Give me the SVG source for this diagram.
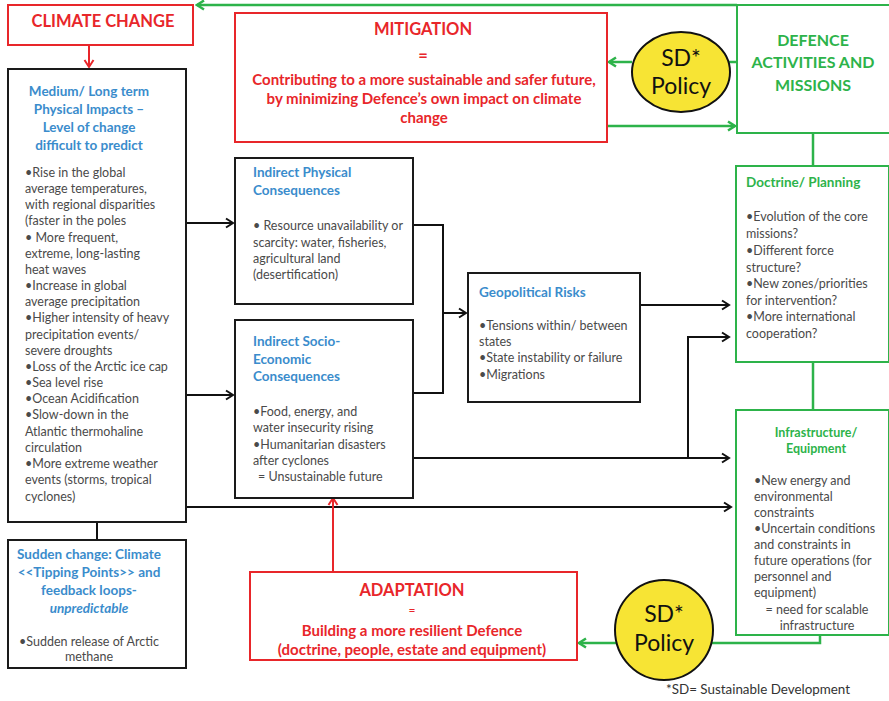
<svg xmlns="http://www.w3.org/2000/svg" width="889" height="701" viewBox="0 0 889 701">
<defs>
<style>
text{font-family:Lato,"Liberation Sans",sans-serif}
.bk{fill:#fff;stroke:#1a1a1a;stroke-width:2}
.rd{fill:#fff;stroke:#e8262a;stroke-width:2}
.gr{fill:#fff;stroke:#2db34a;stroke-width:2}
.sd{fill:#f7e434;stroke:#111;stroke-width:2}
.bt{fill:#3a8ccc;font-size:13.5px;font-weight:bold}
.bd{fill:#4a4a4a;font-size:12.5px}
.rt{fill:#e8262a;font-size:16.5px;font-weight:bold}
.rb{fill:#e8262a;font-size:15px;font-weight:bold}
.gt{fill:#2db34a;font-weight:bold}
.sdt{fill:#111;font-size:23px}
.c{text-anchor:middle}
.lk{fill:none;stroke:#111;stroke-width:2}
.lr{fill:none;stroke:#e8262a;stroke-width:2}
.lg{fill:none;stroke:#2db34a;stroke-width:2.5}
</style>
<marker id="ab" markerWidth="12" markerHeight="12" refX="10" refY="6" orient="auto" markerUnits="userSpaceOnUse"><path d="M3,1.5 L10,6 L3,10.5" fill="none" stroke="#111" stroke-width="2"/></marker>
<marker id="ar" markerWidth="12" markerHeight="12" refX="10" refY="6" orient="auto" markerUnits="userSpaceOnUse"><path d="M3,1.5 L10,6 L3,10.5" fill="none" stroke="#e8262a" stroke-width="2"/></marker>
<marker id="ag" markerWidth="12" markerHeight="12" refX="10" refY="6" orient="auto" markerUnits="userSpaceOnUse"><path d="M3,1.5 L10,6 L3,10.5" fill="none" stroke="#2db34a" stroke-width="2.5"/></marker>
</defs>
<rect width="889" height="701" fill="#fff"/>

<g id="connectors">
<path class="lr" d="M89,45 V67" marker-end="url(#ar)"/>
<path class="lg" d="M737,5 H197" marker-end="url(#ag)"/>
<path class="lg" d="M632,62 H609" marker-end="url(#ag)"/>
<path class="lg" d="M729,62 H737"/>
<path class="lg" d="M608,126 H735" marker-end="url(#ag)"/>
<path class="lg" d="M813,133 V166"/>
<path class="lg" d="M813,362 V410"/>
<path class="lg" d="M820,635 V643 H711"/>
<path class="lg" d="M616,643 H579" marker-end="url(#ag)"/>
<path class="lk" d="M187,223 H233" marker-end="url(#ab)"/>
<path class="lk" d="M187,395 H233" marker-end="url(#ab)"/>
<path class="lk" d="M187,507 H731" marker-end="url(#ab)"/>
<path class="lk" d="M413,225 H443 V393 H413"/>
<path class="lk" d="M443,313 H466" marker-end="url(#ab)"/>
<path class="lk" d="M640,305 H729" marker-end="url(#ab)"/>
<path class="lk" d="M413,458 H729" marker-end="url(#ab)"/>
<path class="lk" d="M688,458 V337 H729" marker-end="url(#ab)"/>
<path class="lk" d="M97,522 V540"/>
<path class="lr" d="M333,572 V498" marker-end="url(#ar)"/>
</g>

<g id="climate-change">
<rect class="rd" x="8" y="5" width="185" height="40"/>
<text class="rt c" x="103" y="27">CLIMATE CHANGE</text>
</g>

<g id="physical-impacts">
<rect class="bk" x="8" y="69" width="178" height="453"/>
<text class="bt c" x="89" y="96">Medium/ Long term</text>
<text class="bt c" x="89" y="114">Physical Impacts –</text>
<text class="bt c" x="89" y="132">Level of change</text>
<text class="bt c" x="89" y="150">difficult to predict</text>
<text class="bd" x="25" y="177">•Rise in the global</text>
<text class="bd" x="25" y="193">average temperatures,</text>
<text class="bd" x="25" y="209">with regional disparities</text>
<text class="bd" x="25" y="225">(faster in the poles</text>
<text class="bd" x="25" y="242">• More frequent,</text>
<text class="bd" x="25" y="258">extreme, long-lasting</text>
<text class="bd" x="25" y="274">heat waves</text>
<text class="bd" x="25" y="290">•Increase  in global</text>
<text class="bd" x="25" y="306">average precipitation</text>
<text class="bd" x="25" y="322">•Higher intensity of heavy</text>
<text class="bd" x="25" y="339">precipitation events/</text>
<text class="bd" x="25" y="355">severe droughts</text>
<text class="bd" x="25" y="371">•Loss of the Arctic ice cap</text>
<text class="bd" x="25" y="387">•Sea level rise</text>
<text class="bd" x="25" y="403">•Ocean Acidification</text>
<text class="bd" x="25" y="419">•Slow-down in the</text>
<text class="bd" x="25" y="436">Atlantic thermohaline</text>
<text class="bd" x="25" y="452">circulation</text>
<text class="bd" x="25" y="468">•More extreme weather</text>
<text class="bd" x="25" y="484">events (storms, tropical</text>
<text class="bd" x="25" y="501">cyclones)</text>
</g>

<g id="sudden-change">
<rect class="bk" x="8" y="540" width="178" height="128"/>
<text class="bt c" x="89" y="559">Sudden change: Climate</text>
<text class="bt c" x="89" y="577">&lt;&lt;Tipping Points&gt;&gt; and</text>
<text class="bt c" x="89" y="595">feedback loops-</text>
<text class="bt c" x="89" y="613" font-style="italic">unpredictable</text>
<text class="bd c" x="89" y="646">•Sudden release of Arctic</text>
<text class="bd c" x="89" y="661">methane</text>
</g>

<g id="mitigation">
<rect class="rd" x="235" y="13" width="372" height="129"/>
<text class="rt c" x="423" y="35">MITIGATION</text>
<text class="rt c" x="423" y="61">=</text>
<text class="rb c" x="424" y="85">Contributing to a more sustainable and safer future,</text>
<text class="rb c" x="424" y="104">by  minimizing  Defence’s own impact on climate</text>
<text class="rb c" x="424" y="123">change</text>
</g>

<g id="sd-policy-top">
<ellipse class="sd" cx="681" cy="72" rx="49" ry="40"/>
<text class="sdt c" x="681" y="66">SD*</text>
<text class="sdt c" x="681" y="94">Policy</text>
</g>

<g id="defence-activities">
<rect class="gr" x="737" y="5" width="153" height="128"/>
<text class="gt c" x="813" y="46" font-size="16">DEFENCE</text>
<text class="gt c" x="813" y="68" font-size="16">ACTIVITIES AND</text>
<text class="gt c" x="813" y="91" font-size="16">MISSIONS</text>
</g>

<g id="indirect-physical">
<rect class="bk" x="235" y="158" width="178" height="146"/>
<text class="bt" x="253" y="177">Indirect Physical</text>
<text class="bt" x="253" y="195">Consequences</text>
<text class="bd" x="253" y="230">• Resource unavailability or</text>
<text class="bd" x="253" y="247">scarcity: water, fisheries,</text>
<text class="bd" x="253" y="263">agricultural land</text>
<text class="bd" x="253" y="279">(desertification)</text>
</g>

<g id="indirect-socio">
<rect class="bk" x="235" y="320" width="178" height="178"/>
<text class="bt" x="253" y="346">Indirect Socio-</text>
<text class="bt" x="253" y="364">Economic</text>
<text class="bt" x="253" y="381">Consequences</text>
<text class="bd" x="253" y="416">•Food, energy,  and</text>
<text class="bd" x="253" y="432">water insecurity rising</text>
<text class="bd" x="253" y="449">•Humanitarian disasters</text>
<text class="bd" x="253" y="465">after cyclones</text>
<text class="bd" x="258" y="481">= Unsustainable future</text>
</g>

<g id="geopolitical">
<rect class="bk" x="468" y="273" width="172" height="129"/>
<text class="bt" x="479" y="297">Geopolitical Risks</text>
<text class="bd" x="479" y="330">•Tensions within/ between</text>
<text class="bd" x="479" y="346">states</text>
<text class="bd" x="479" y="362">•State instability or failure</text>
<text class="bd" x="479" y="379">•Migrations</text>
</g>

<g id="doctrine">
<rect class="gr" x="736" y="166" width="153" height="196"/>
<text class="gt" x="746" y="187" font-size="13.5">Doctrine/ Planning</text>
<text class="bd" x="746" y="221">•Evolution of the core</text>
<text class="bd" x="746" y="238">missions?</text>
<text class="bd" x="746" y="255">•Different force</text>
<text class="bd" x="746" y="272">structure?</text>
<text class="bd" x="746" y="288">•New zones/priorities</text>
<text class="bd" x="746" y="305">for intervention?</text>
<text class="bd" x="746" y="321">•More international</text>
<text class="bd" x="746" y="338">cooperation?</text>
</g>

<g id="infrastructure">
<rect class="gr" x="736" y="410" width="153" height="225"/>
<text class="gt c" x="816" y="437" font-size="12.5">Infrastructure/</text>
<text class="gt c" x="816" y="453" font-size="12.5">Equipment</text>
<text class="bd" x="754" y="485">•New energy  and</text>
<text class="bd" x="754" y="501">environmental</text>
<text class="bd" x="754" y="517">constraints</text>
<text class="bd" x="754" y="533">•Uncertain conditions</text>
<text class="bd" x="754" y="549">and constraints in</text>
<text class="bd" x="754" y="565">future operations (for</text>
<text class="bd" x="754" y="581">personnel and</text>
<text class="bd" x="754" y="597">equipment)</text>
<text class="bd c" x="817" y="614">= need for scalable</text>
<text class="bd c" x="817" y="630">infrastructure</text>
</g>

<g id="adaptation">
<rect class="rd" x="250" y="572" width="327" height="88"/>
<text class="rt c" x="412" y="596">ADAPTATION</text>
<text class="c" x="412" y="614" fill="#e8262a" font-size="12">=</text>
<text class="rb c" x="412" y="636" font-size="15.5">Building a more resilient Defence</text>
<text class="rb c" x="412" y="655" font-size="15.5">(doctrine, people, estate and equipment)</text>
</g>

<g id="sd-policy-bottom">
<ellipse class="sd" cx="664" cy="630" rx="49" ry="50"/>
<text class="sdt c" x="664" y="622">SD*</text>
<text class="sdt c" x="664" y="651">Policy</text>
</g>

<g id="footnote">
<text x="666" y="694" fill="#333" font-size="13.4">*SD= Sustainable Development</text>
</g>
</svg>
